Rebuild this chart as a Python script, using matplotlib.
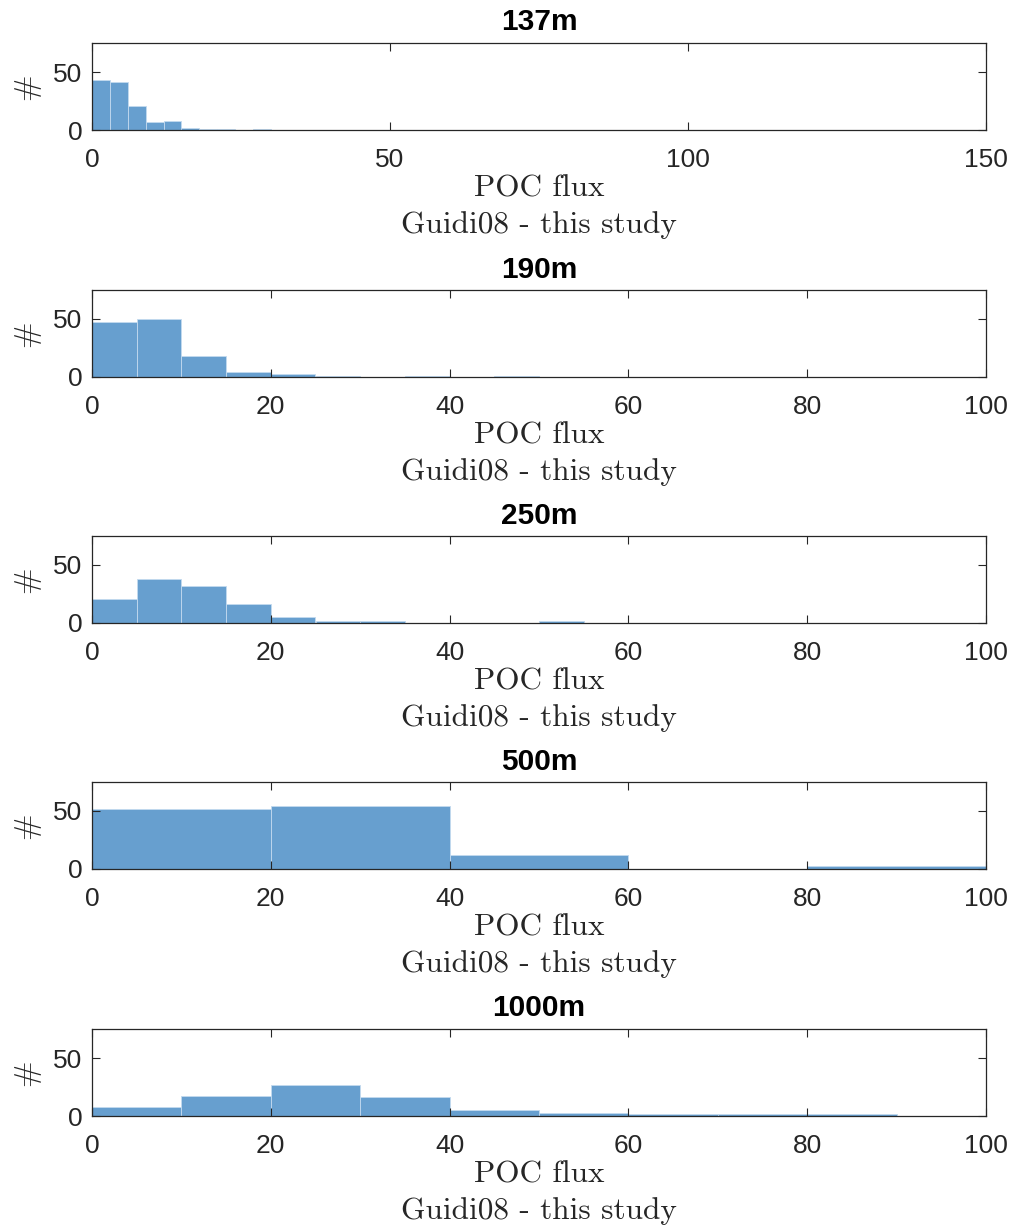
import numpy as np
import matplotlib.pyplot as plt

plt.rcParams['font.family'] = ['Liberation Sans', 'DejaVu Sans']

# depth panels and their bin counts
depths = ["137m", "190m", "250m", "500m", "1000m"]
bin_widths = [3, 5, 5, 20, 10]
xmax = [150, 100, 100, 100, 100]
xticks = [[0, 50, 100, 150],
          [0, 20, 40, 60, 80, 100],
          [0, 20, 40, 60, 80, 100],
          [0, 20, 40, 60, 80, 100],
          [0, 20, 40, 60, 80, 100]]
counts_137 = [43, 41, 21, 7, 8, 2, 1, 1, 0, 1]
counts_190 = [47, 50, 18, 4, 3, 1, 0, 1, 0, 1]
counts_250 = [21, 38, 32, 16, 5, 2, 2, 0, 0, 0, 2]
counts_500 = [52, 54, 12, 0, 3]
counts_1000 = [8, 17, 27, 16, 5, 3, 2, 2, 2]
all_counts = [counts_137, counts_190, counts_250, counts_500, counts_1000]

face = '#679fcf'
edge = '#c3daef'
dark = '#262626'

fig = plt.figure(figsize=(10.16, 12.28), dpi=100)

W, H = 1016, 1228
left, right = 92, 986
tops = [43, 290, 536, 782, 1029]
ph = 87

for i, depth in enumerate(depths):
    ax = fig.add_axes([left / W, 1 - (tops[i] + ph) / H, (right - left) / W, ph / H])
    c = np.array(all_counts[i])
    edges = np.arange(len(c)) * bin_widths[i]
    ax.bar(edges, c, width=bin_widths[i], align='edge', color=face,
           edgecolor=edge, linewidth=0.6)
    ax.set_xlim(0, xmax[i])
    ax.set_ylim(0, 75)
    ax.set_xticks(xticks[i])
    ax.set_yticks([0, 50])
    ax.tick_params(direction='in', top=True, right=True, length=6, width=0.8,
                   colors=dark, labelsize=19, labelcolor=dark)
    ax.tick_params(axis='x', pad=13)
    ax.tick_params(axis='y', pad=7)
    for s in ax.spines.values():
        s.set_color(dark)
        s.set_linewidth(0.9)
    ax.set_title(depth, fontsize=21.5, fontweight='bold', pad=9)
    ax.set_xlabel('POC flux\nGuidi08 - this study', family='cmr10',
                  fontsize=22.5, color=dark, labelpad=2, linespacing=1.38)
    ax.set_ylabel('#', family='cmr10', fontsize=23, color=dark, labelpad=9)

fig.savefig('out.png', dpi=100)
